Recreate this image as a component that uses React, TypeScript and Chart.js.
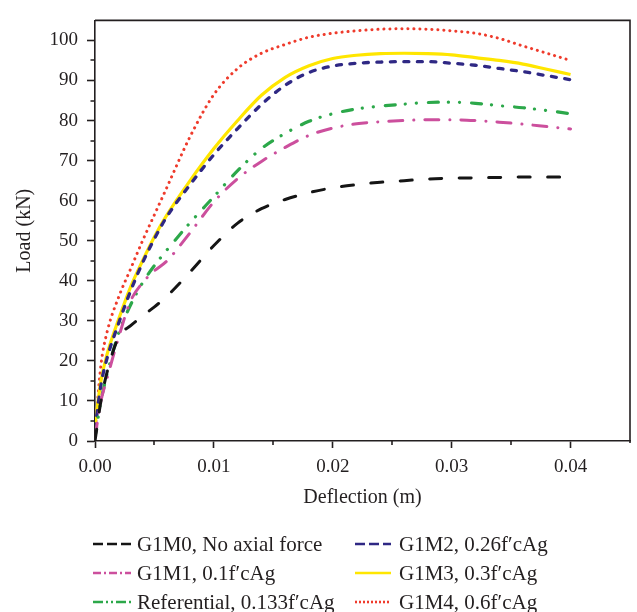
import React, { useEffect, useRef } from 'react';
import { Chart, registerables } from 'chart.js';

Chart.register(...registerables);

// ---- data ----
const deflection = [
  0, 0.0005, 0.001, 0.002, 0.003, 0.004, 0.005, 0.006, 0.008, 0.01, 0.012, 0.014, 0.016,
  0.018, 0.02, 0.022, 0.024, 0.026, 0.028, 0.03, 0.032, 0.034, 0.036, 0.038, 0.04,
];
const loadG1M0 = [0, 10, 17, 26, 28.8, 31.2, 33.5, 36, 42.2, 48.8, 54.4, 58, 60.3, 62, 63.2, 64, 64.6, 65, 65.4, 65.6, 65.7, 65.8, 65.9, 65.9, 65.9];
const loadG1M1 = [1, 10, 15.5, 26, 35, 39.5, 42.5, 44.8, 52, 59.7, 65.5, 69.8, 73.3, 76.3, 78.1, 79.2, 79.7, 80, 80.2, 80.2, 80, 79.6, 79.1, 78.5, 77.9];
const loadRef = [1, 10, 16.5, 27, 34, 39.5, 43.8, 47.5, 54.5, 61, 67.5, 73, 76.8, 79.8, 81.7, 82.9, 83.6, 84.1, 84.5, 84.6, 84.3, 83.7, 83.2, 82.5, 81.7];
const loadG1M2 = [3, 14, 20.5, 29.5, 37.5, 44.5, 50.5, 55.8, 64, 71.5, 78, 84, 88.8, 92, 93.6, 94.3, 94.6, 94.7, 94.7, 94.3, 93.8, 93, 92.2, 91.2, 90.2];
const loadG1M3 = [4, 15, 21.5, 30.5, 38.5, 45, 51, 56.2, 65, 73, 80, 86.3, 90.8, 93.7, 95.5, 96.3, 96.7, 96.8, 96.7, 96.4, 95.7, 95, 94.1, 92.8, 91.5];
const loadG1M4 = [2, 19, 27, 36, 43, 50, 56.5, 63, 76, 86.5, 93, 96.8, 99, 100.8, 101.8, 102.4, 102.8, 102.9, 102.8, 102.4, 101.8, 100.5, 98.6, 96.8, 95];

const seriesLabels = [
  'G1M0, No axial force',
  'G1M1, 0.1f\u2032cAg',
  'Referential, 0.133f\u2032cAg',
  'G1M2, 0.26f\u2032cAg',
  'G1M3, 0.3f\u2032cAg',
  'G1M4, 0.6f\u2032cAg',
];
const seriesLoads = [loadG1M0, loadG1M1, loadRef, loadG1M2, loadG1M3, loadG1M4];

const xMajorTicks = [0, 0.01, 0.02, 0.03, 0.04];
const xMinorTicks = [0.005, 0.015, 0.025, 0.035];
const yMinorTicks = [5, 15, 25, 35, 45, 55, 65, 75, 85, 95];

// ---- styles ----
const seriesColors = ['#151515', '#cc4f9d', '#2ca84a', '#2f2884', '#ffe600', '#ef3b2c'];
const seriesDash: number[][] = [
  [12, 17.5],
  [14, 11, 0.1, 11],
  [10, 10, 0.1, 11, 0.1, 12],
  [5, 8.5],
  [],
  [0.1, 5.9],
];
const seriesWidth = [3, 3, 3.2, 3.3, 3.2, 3];
const legendDash: number[][] = [
  [10, 4],
  [8, 3, 2, 3],
  [10, 3, 2, 3, 2, 3],
  [10, 4],
  [],
  [2, 2],
];

const AXIS = '#231f20';
const FONT = "'Liberation Serif', 'Times New Roman', serif";

const decorPlugin = {
  id: 'decor',
  afterDraw(chart: any) {
    const { ctx, chartArea, scales } = chart;
    const x = scales.x;
    const y = scales.y;
    ctx.save();
    ctx.strokeStyle = AXIS;
    ctx.lineWidth = 1.6;
    ctx.setLineDash([]);
    // frame top and right
    ctx.beginPath();
    ctx.moveTo(chartArea.left, chartArea.top);
    ctx.lineTo(chartArea.right, chartArea.top);
    ctx.lineTo(chartArea.right, chartArea.bottom + 2);
    ctx.stroke();
    // minor ticks
    ctx.beginPath();
    for (const v of xMinorTicks) {
      const px = Math.round(x.getPixelForValue(v));
      ctx.moveTo(px, chartArea.bottom);
      ctx.lineTo(px, chartArea.bottom + 4);
    }
    for (const v of yMinorTicks) {
      const py = Math.round(y.getPixelForValue(v));
      ctx.moveTo(chartArea.left, py);
      ctx.lineTo(chartArea.left - 4.5, py);
    }
    ctx.stroke();

    // legend
    const cols = [
      { lx0: 93, lx1: 131, tx: 137 },
      { lx0: 355, lx1: 391, tx: 399 },
    ];
    const rows = [544, 573, 602];
    ctx.font = `21px ${FONT}`;
    ctx.textBaseline = 'middle';
    ctx.textAlign = 'left';
    chart.data.datasets.forEach((ds: any, i: number) => {
      const c = cols[Math.floor(i / 3)];
      const ry = rows[i % 3];
      ctx.beginPath();
      ctx.strokeStyle = ds.borderColor;
      ctx.lineWidth = 2.6;
      ctx.lineCap = 'butt';
      ctx.setLineDash(legendDash[i]);
      ctx.moveTo(c.lx0, ry);
      ctx.lineTo(c.lx1, ry);
      ctx.stroke();
      ctx.setLineDash([]);
      ctx.fillStyle = '#231f20';
      ctx.fillText(ds.label, c.tx, ry + 1);
    });
    ctx.restore();
  },
};

export default function App() {
  const ref = useRef<HTMLCanvasElement>(null);
  useEffect(() => {
    if (!ref.current) return;
    const datasets = seriesLoads.map((loads, i) => ({
      label: seriesLabels[i],
      data: deflection.map((d, k) => ({ x: d, y: loads[k] })),
      borderColor: seriesColors[i],
      backgroundColor: seriesColors[i],
      borderWidth: seriesWidth[i],
      borderDash: seriesDash[i],
      borderCapStyle: seriesDash[i].length ? 'round' : 'butt',
      borderJoinStyle: 'round',
      pointRadius: 0,
      cubicInterpolationMode: 'monotone',
      fill: false,
    }));
    const chart = new Chart(ref.current, {
      type: 'line',
      data: { datasets },
      options: {
        responsive: false,
        animation: false,
        layout: { padding: { left: 0, right: 7, top: 9, bottom: 101 } },
        plugins: { legend: { display: false }, tooltip: { enabled: false } },
        scales: {
          x: {
            type: 'linear',
            min: 0,
            max: 0.045,
            afterFit: (s: any) => { s.height = 70; },
            afterBuildTicks: (s: any) => { s.ticks = xMajorTicks.map((v) => ({ value: v })); },
            ticks: {
              includeBounds: false,
              padding: 8,
              maxRotation: 0,
              color: AXIS,
              font: { family: FONT, size: 19 },
              callback: (v: any) => Number(v).toFixed(2),
            },
            grid: {
              drawOnChartArea: false,
              drawTicks: true,
              tickLength: 7,
              tickWidth: 1.6,
              tickColor: AXIS,
              color: AXIS,
            },
            border: { display: true, color: AXIS, width: 1.6 },
            title: {
              display: true,
              text: 'Deflection (m)',
              color: AXIS,
              font: { family: FONT, size: 20 },
              padding: { top: 0, bottom: 1 },
            },
          },
          y: {
            type: 'linear',
            min: 0,
            max: 105,
            afterFit: (s: any) => { s.width = 95; },
            ticks: {
              stepSize: 10,
              includeBounds: false,
              padding: 9,
              color: AXIS,
              font: { family: FONT, size: 19 },
            },
            grid: {
              drawOnChartArea: false,
              drawTicks: true,
              tickLength: 8,
              tickWidth: 1.6,
              tickColor: AXIS,
              color: AXIS,
            },
            border: { display: true, color: AXIS, width: 1.6 },
            title: {
              display: true,
              text: 'Load (kN)',
              color: AXIS,
              font: { family: FONT, size: 20 },
              padding: { top: 13, bottom: 0 },
            },
          },
        },
      },
      plugins: [decorPlugin],
    } as any);
    return () => chart.destroy();
  }, []);
  return (
    <div style={{ position: 'absolute', left: 0, top: 0, width: 637, height: 612, background: '#fff' }}>
      <canvas ref={ref} width={637} height={612} style={{ display: 'block' }} />
    </div>
  );
}
